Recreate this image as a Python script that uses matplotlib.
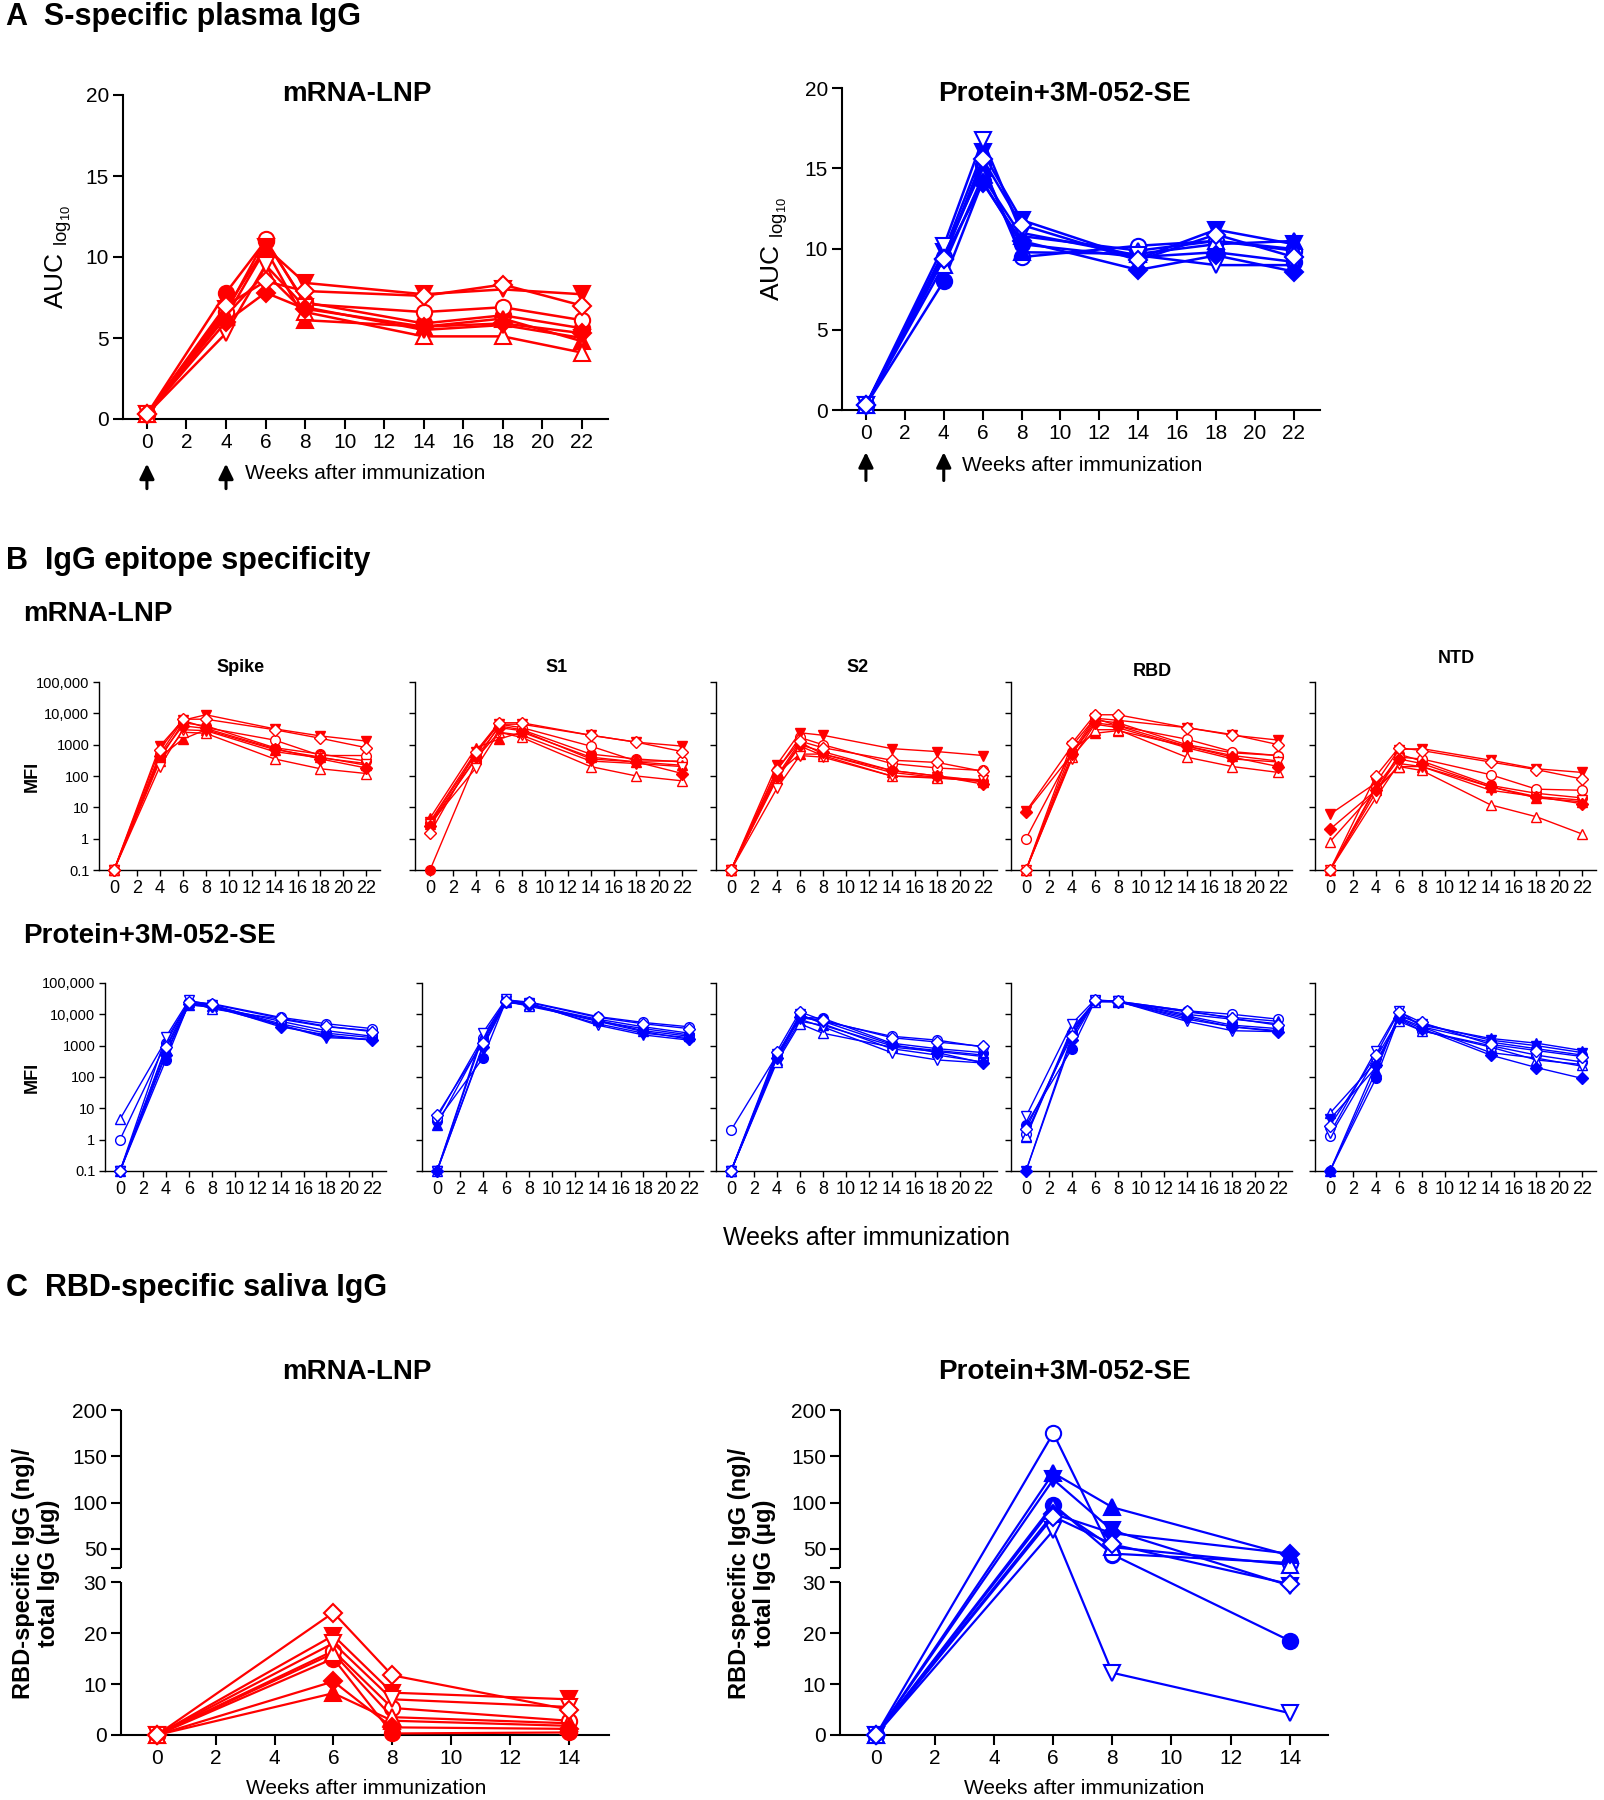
import numpy as np
import matplotlib
matplotlib.use("Agg")
from matplotlib import pyplot
from matplotlib.ticker import NullLocator

pyplot.rcParams['font.family'] = ['Liberation Sans', 'DejaVu Sans']

#----------------------
# data
#----------------------
weeks_plasma = [0, 4, 6, 8, 14, 18, 22]
weeks_saliva = [0, 6, 8, 14]

# 8 animals per group, same symbol order in every panel:
# filled circle, open circle, filled triangle, open triangle,
# filled down-triangle, open down-triangle, filled diamond, open diamond
markers = ['o', 'o', '^', '^', 'v', 'v', 'D', 'D']
filled = [True, False, True, False, True, False, True, False]

# A: S-specific plasma IgG (AUC log10)
auc_mrna = [
    [0.3, 7.8, 11.0, 7.2, 5.9, 6.4, 5.6],
    [0.3, 6.6, 11.1, 7.1, 6.6, 6.9, 6.1],
    [0.3, 6.3, 10.5, 6.1, 5.7, 6.2, 4.8],
    [0.3, 6.4, 9.0, 6.6, 5.1, 5.1, 4.1],
    [0.3, 6.8, 10.6, 8.4, 7.7, 8.0, 7.7],
    [0.3, 5.3, 9.5, 6.9, 5.5, 5.8, 5.0],
    [0.3, 6.0, 7.8, 6.8, 5.7, 5.9, 5.3],
    [0.3, 7.0, 8.5, 7.9, 7.6, 8.3, 7.0],
]
auc_protein = [
    [0.3, 8.0, 14.2, 10.3, 9.5, 9.8, 9.2],
    [0.3, 9.5, 15.2, 9.5, 10.2, 10.5, 9.9],
    [0.3, 9.8, 15.0, 9.8, 9.7, 10.3, 10.5],
    [0.3, 9.0, 14.5, 10.8, 9.9, 10.5, 10.0],
    [0.3, 9.8, 16.0, 11.8, 9.4, 11.2, 10.3],
    [0.3, 10.2, 16.8, 11.0, 9.6, 9.0, 9.0],
    [0.3, 9.4, 14.1, 10.5, 8.7, 9.6, 8.6],
    [0.3, 9.4, 15.6, 11.5, 9.3, 10.9, 9.5],
]

# B: epitope specificity (MFI)
antigens = ['Spike', 'S1', 'S2', 'RBD', 'NTD']
mfi_ticks = [0.1, 1, 10, 100, 1000, 10000, 100000]
mfi_tick_labels = ['0.1', '1', '10', '100', '1000', '10,000', '100,000']

mfi_mrna_spike = [
    [0.1, 350, 5000, 4000, 800, 500, 300],
    [0.1, 500, 6000, 3500, 1400, 450, 450],
    [0.1, 400, 1500, 3000, 700, 400, 220],
    [0.1, 300, 2500, 2300, 350, 170, 120],
    [0.1, 900, 6000, 9000, 3200, 1900, 1300],
    [0.1, 200, 3000, 2800, 600, 380, 250],
    [0.1, 450, 4000, 3300, 750, 350, 180],
    [0.1, 700, 6500, 6500, 3000, 1600, 800],
]
mfi_mrna_s1 = [
    [0.1, 300, 4000, 3000, 500, 350, 280],
    [3.2, 500, 4500, 3500, 900, 300, 300],
    [4.5, 800, 1500, 2500, 400, 280, 220],
    [3.0, 350, 2500, 1700, 200, 100, 70],
    [3.5, 600, 4500, 4500, 2000, 1200, 900],
    [3.0, 180, 2500, 2000, 300, 250, 200],
    [2.5, 400, 3500, 2800, 350, 280, 120],
    [1.5, 600, 5000, 5000, 2000, 1200, 600],
]
mfi_mrna_s2 = [
    [0.1, 100, 1200, 500, 150, 100, 70],
    [0.1, 150, 1700, 1000, 250, 180, 150],
    [0.1, 120, 500, 500, 130, 90, 65],
    [0.1, 80, 900, 450, 100, 85, 70],
    [0.1, 230, 2400, 2000, 750, 600, 450],
    [0.1, 40, 450, 400, 100, 90, 75],
    [0.1, 90, 1000, 600, 150, 100, 55],
    [0.1, 160, 1300, 800, 320, 270, 140],
]
mfi_mrna_rbd = [
    [0.1, 500, 6000, 5000, 1000, 550, 450],
    [1.0, 600, 7000, 4000, 1500, 600, 450],
    [0.1, 700, 2300, 2800, 900, 450, 300],
    [0.1, 400, 3000, 3000, 400, 200, 130],
    [7.5, 900, 7000, 6000, 3500, 2000, 1400],
    [0.1, 350, 4500, 3500, 800, 350, 280],
    [7.0, 500, 5000, 4000, 900, 400, 200],
    [0.1, 1100, 9000, 9000, 3500, 2100, 1000],
]
mfi_mrna_ntd = [
    [0.1, 30, 500, 300, 50, 28, 20],
    [0.1, 45, 400, 350, 110, 38, 35],
    [0.1, 40, 200, 200, 45, 20, 15],
    [0.8, 35, 200, 150, 12, 5, 1.4],
    [6.0, 60, 700, 750, 320, 170, 130],
    [0.1, 20, 250, 200, 35, 22, 17],
    [2.0, 35, 350, 250, 45, 22, 13],
    [0.1, 100, 800, 650, 280, 160, 80],
]
mfi_protein_spike = [
    [0.1, 350, 22000, 20000, 5000, 2500, 1800],
    [1.0, 1200, 25000, 22000, 8000, 5000, 3500],
    [0.1, 800, 20000, 18000, 6000, 3000, 2000],
    [4.5, 1500, 25000, 15000, 7000, 4000, 3000],
    [0.1, 600, 20000, 17000, 4500, 2000, 1500],
    [0.1, 1900, 28000, 20000, 4500, 1800, 1600],
    [0.1, 500, 22000, 19000, 4000, 2200, 1500],
    [0.1, 900, 24000, 21000, 7500, 4200, 2800],
]
mfi_protein_s1 = [
    [4.0, 400, 26000, 22000, 6000, 3500, 2200],
    [5.0, 1800, 28000, 25000, 8500, 5500, 4000],
    [3.0, 1500, 25000, 20000, 7000, 4000, 2500],
    [0.1, 2000, 27000, 18000, 6500, 3000, 2000],
    [0.1, 1000, 26000, 21000, 5000, 2500, 1800],
    [0.1, 2600, 30000, 23000, 4500, 2200, 1500],
    [0.1, 900, 24000, 20000, 6000, 2800, 1600],
    [6.0, 1250, 27000, 24000, 8000, 5000, 3500],
]
mfi_protein_s2 = [
    [0.1, 400, 8000, 7500, 1200, 800, 600],
    [2.0, 500, 9000, 6000, 2000, 1500, 900],
    [0.1, 350, 6000, 4500, 1000, 700, 500],
    [0.1, 300, 5000, 2500, 900, 650, 450],
    [0.1, 450, 10000, 5000, 800, 500, 300],
    [0.1, 550, 7000, 4000, 600, 350, 280],
    [0.1, 400, 8000, 6000, 1100, 600, 280],
    [0.1, 650, 12000, 6500, 1800, 1300, 950],
]
mfi_protein_rbd = [
    [3.0, 800, 26000, 26000, 9000, 4500, 3500],
    [1.5, 2500, 27000, 26000, 13000, 10000, 7000],
    [1.2, 3000, 26000, 25000, 12000, 8000, 6000],
    [1.3, 3500, 25000, 26000, 10000, 7000, 5000],
    [0.1, 2000, 27000, 26000, 7000, 4000, 3000],
    [5.5, 5000, 29000, 26000, 6000, 3000, 2800],
    [0.1, 1500, 26000, 25000, 8000, 4000, 2800],
    [2.2, 2000, 28000, 26000, 13000, 7500, 4500],
]
mfi_protein_ntd = [
    [0.1, 90, 8000, 4000, 1300, 800, 500],
    [1.3, 400, 7000, 3000, 1000, 500, 300],
    [0.1, 150, 10000, 4500, 1700, 1200, 700],
    [7.0, 300, 6000, 3000, 900, 350, 250],
    [4.5, 200, 9000, 5000, 1500, 1000, 600],
    [1.6, 700, 13000, 4000, 600, 400, 220],
    [0.1, 250, 7500, 3500, 500, 200, 90],
    [2.8, 500, 12000, 5500, 1100, 700, 450],
]

# C: RBD-specific saliva IgG (ng per ug total IgG)
saliva_mrna = [
    [0, 15.0, 0.3, 0.5],
    [0, 16.5, 5.3, 2.8],
    [0, 8.2, 2.8, 1.8],
    [0, 16.0, 3.5, 2.3],
    [0, 19.5, 8.3, 7.0],
    [0, 18.0, 7.0, 5.5],
    [0, 10.5, 1.5, 1.2],
    [0, 24.0, 11.7, 5.0],
]
saliva_protein = [
    [0, 98, 44, 18.5],
    [0, 175, 45, 35],
    [0, 132, 95, 43],
    [0, 95, 52, 33],
    [0, 125, 70, 29.3],
    [0, 70, 12.2, 4.3],
    [0, 88, 67, 45],
    [0, 85, 55, 29.6],
]
saliva_ticks = [0, 10, 20, 30, 50, 100, 150, 200]

#----------------------
# layout helpers (pixel positions of the 1604x1800 figure)
#----------------------
W = 1604
H = 1800
RED = '#ff0000'
BLUE = '#0000ff'


def box(l, t, r, b):
    return [l / W, 1 - b / H, (r - l) / W, (b - t) / H]


def ftext(x, y, s, **kw):
    fig.text(x / W, 1 - y / H, s, **kw)


def draw_animals(ax, x, data, color, ms, lw, mew):
    for i in range(len(data)):
        face = color if filled[i] else 'white'
        size = ms * 0.85 if markers[i] == 'D' else ms
        ax.plot(x, data[i], color=color, lw=lw, marker=markers[i], markersize=size,
                markerfacecolor=face, markeredgecolor=color, markeredgewidth=mew,
                clip_on=False, zorder=3)


def style_axes(ax, lw, tick_len, tick_size):
    ax.spines['top'].set_visible(False)
    ax.spines['right'].set_visible(False)
    ax.spines['left'].set_linewidth(lw)
    ax.spines['bottom'].set_linewidth(lw)
    ax.tick_params(direction='out', length=tick_len, width=lw, labelsize=tick_size, pad=3)


# broken y axis for panel C: 0-30 linear, then 30-200 compressed
def saliva_fwd(y):
    y = np.asarray(y, dtype=float)
    return np.where(y <= 30, y, 32.84 + (y - 30) * 0.1817)


def saliva_inv(v):
    v = np.asarray(v, dtype=float)
    return np.where(v <= 30, v, np.where(v < 32.84, 30.0, 30 + (v - 32.84) / 0.1817))


fig = pyplot.figure(figsize=(W / 100, H / 100), dpi=100)

#----------------------
# panel A
#----------------------
ftext(6, 17, 'A  S-specific plasma IgG', fontsize=22, fontweight='bold', va='center')

panel_a = [
    (auc_mrna, RED, 'mRNA-LNP', box(123, 95, 608, 419), (-1.21, 23.32), 357, 59, 257, (-0.138, -0.215, -0.167)),
    (auc_protein, BLUE, 'Protein+3M-052-SE', box(842, 88, 1320, 410), (-1.23, 23.34), 1064, 775, 249, (-0.131, -0.219, -0.171)),
]
for data, color, title, rect, xlim, title_x, ylab_x, ylab_y, arr in panel_a:
    ax = fig.add_axes(rect)
    draw_animals(ax, weeks_plasma, data, color, 11, 1.8, 1.5)
    style_axes(ax, 1.5, 7, 15)
    ax.set_xlim(*xlim)
    ax.set_ylim(0, 20)
    ax.set_xticks(range(0, 23, 2))
    ax.set_yticks([0, 5, 10, 15, 20])
    ftext(title_x, 94, title, fontsize=20, fontweight='bold', ha='center', va='center')
    ftext(ylab_x, ylab_y, r'AUC $_{\mathregular{log}_{\mathregular{10}}}$', fontsize=19,
          rotation=90, ha='center', va='center')
    # immunization arrows
    for wk in [0, 4]:
        ax.annotate('', xy=(wk, arr[0]), xytext=(wk, arr[1]),
                    xycoords=ax.get_xaxis_transform(), textcoords=ax.get_xaxis_transform(),
                    arrowprops=dict(arrowstyle='-|>,head_length=0.45,head_width=0.22', color='k',
                                    lw=2.2, mutation_scale=20, shrinkA=0, shrinkB=0),
                    annotation_clip=False)
    ax.text(4.95, arr[2], 'Weeks after immunization', transform=ax.get_xaxis_transform(),
            fontsize=15, ha='left', va='center')

#----------------------
# panel B
#----------------------
ftext(6, 561, 'B  IgG epitope specificity', fontsize=22, fontweight='bold', va='center')
ftext(23, 614, 'mRNA-LNP', fontsize=20, fontweight='bold', va='center')
ftext(23, 936, 'Protein+3M-052-SE', fontsize=20, fontweight='bold', va='center')

mfi_rows = [
    ([mfi_mrna_spike, mfi_mrna_s1, mfi_mrna_s2, mfi_mrna_rbd, mfi_mrna_ntd], RED,
     [114, 430, 731, 1026, 1330], 682, 870),
    ([mfi_protein_spike, mfi_protein_s1, mfi_protein_s2, mfi_protein_rbd, mfi_protein_ntd], BLUE,
     [120, 437, 731, 1026, 1330], 983, 1171),
]
week_px = 11.47
title_y = [667, 668, 667, 672, 658]
for row, (sets, color, tick0, top, bottom) in enumerate(mfi_rows):
    for k in range(5):
        left = tick0[k] - 1.3 * week_px
        right = left + 24.5 * week_px
        ax = fig.add_axes(box(left, top, right, bottom))
        draw_animals(ax, weeks_plasma, sets[k], color, 7, 1.0, 1.0)
        style_axes(ax, 1.0, 4, 13)
        ax.set_yscale('log')
        ax.set_xlim(-1.3, 23.2)
        ax.set_ylim(0.1, 100000)
        ax.set_xticks(range(0, 23, 2))
        ax.set_yticks(mfi_ticks)
        ax.yaxis.set_minor_locator(NullLocator())
        if k == 0:
            ax.set_yticklabels(mfi_tick_labels, fontsize=10.5)
        else:
            ax.set_yticklabels([])
        if row == 0:
            ftext(tick0[k] + 11 * week_px, title_y[k], antigens[k], fontsize=13,
                  fontweight='bold', ha='center', va='center')
    ftext(32, (top + bottom) / 2, 'MFI', fontsize=13, fontweight='bold', rotation=90,
          ha='center', va='center')

ftext(867, 1238, 'Weeks after immunization', fontsize=18, ha='center', va='center')

#----------------------
# panel C
#----------------------
ftext(6, 1288, 'C  RBD-specific saliva IgG', fontsize=22, fontweight='bold', va='center')

panel_c = [
    (saliva_mrna, RED, 'mRNA-LNP', box(121, 1410, 609, 1735), (-1.22, 15.37), 357, 366, 36),
    (saliva_protein, BLUE, 'Protein+3M-052-SE', box(840, 1410, 1328, 1735), (-1.22, 15.3), 1064, 1084, 752),
]
for data, color, title, rect, xlim, title_x, xlab_x, ylab_x in panel_c:
    ax = fig.add_axes(rect)
    ax.set_yscale('function', functions=(saliva_fwd, saliva_inv))
    draw_animals(ax, weeks_saliva, data, color, 11, 1.6, 1.5)
    style_axes(ax, 1.5, 7, 15)
    ax.set_xlim(*xlim)
    ax.set_ylim(0, 200)
    ax.set_xticks(range(0, 15, 2))
    ax.set_yticks(saliva_ticks)
    ax.set_yticks([30.001], minor=True)
    ax.tick_params(axis='y', which='minor', direction='out', length=7, width=1.5)
    # left spine drawn in two pieces around the break
    ax.spines['left'].set_visible(False)
    tr = ax.get_yaxis_transform()
    ax.plot([0, 0], [0, 30], transform=tr, color='k', lw=1.5, clip_on=False, solid_capstyle='butt')
    ax.plot([0, 0], [30.001, 200], transform=tr, color='k', lw=1.5, clip_on=False, solid_capstyle='butt')
    ax.set_xlim(*xlim)
    ax.set_ylim(0, 200)
    ftext(title_x, 1372, title, fontsize=20, fontweight='bold', ha='center', va='center')
    ftext(xlab_x, 1788, 'Weeks after immunization', fontsize=15, ha='center', va='center')
    ftext(ylab_x, 1573, 'RBD-specific IgG (ng)/\ntotal IgG (\u03bcg)', fontsize=17,
          fontweight='bold', rotation=90, ha='center', va='center', linespacing=1.1,
          multialignment='center')

fig.savefig('out.png', dpi=100)
